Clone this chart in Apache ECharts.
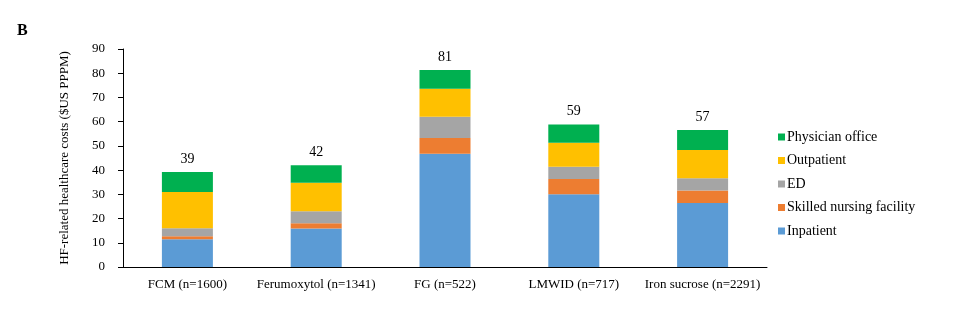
<!DOCTYPE html>
<html>
<head>
<meta charset="utf-8">
<script src="https://cdn.jsdelivr.net/npm/echarts@6/dist/echarts.min.js"></script>
<style>html,body{margin:0;padding:0;background:#fff}#c{width:975px;height:324px}</style>
</head>
<body>
<div id="c"></div>
<script>
var categories = ['FCM (n=1600)', 'Ferumoxytol (n=1341)', 'FG (n=522)', 'LMWID (n=717)', 'Iron sucrose (n=2291)'];
var inpatient = [11.5, 15.9, 46.8, 30.0, 26.4];
var skilledNursing = [1.2, 2.2, 6.5, 6.3, 5.2];
var ed = [3.3, 4.9, 8.7, 5.1, 5.0];
var outpatient = [15.0, 11.8, 11.6, 9.9, 11.7];
var physicianOffice = [8.2, 7.2, 7.7, 7.5, 8.3];
var totals = [39, 42, 81, 59, 57];
var yTicks = [0, 10, 20, 30, 40, 50, 60, 70, 80, 90];

var font = '"Liberation Serif", "Times New Roman", serif';
var chart = echarts.init(document.getElementById('c'), null, {renderer: 'canvas'});
function ser(name, data, color, withTotal) {
  var s = {
    name: name, type: 'bar', stack: 'total', data: data, barWidth: 51,
    itemStyle: {color: color}, emphasis: {disabled: true}
  };
  if (withTotal) {
    s.label = {
      show: true, position: 'top', distance: 6, color: '#000',
      fontFamily: font, fontSize: 14,
      formatter: function (p) { return String(totals[p.dataIndex]); }
    };
  }
  return s;
}
chart.setOption({
  animation: false,
  backgroundColor: '#fff',
  textStyle: {fontFamily: font},
  title: {text: 'B', left: 12, top: 18, textStyle: {fontFamily: font, fontSize: 16, fontWeight: 'bold', color: '#000'}},
  grid: {left: 123, right: 208, top: 49, bottom: 57},
  legend: {
    orient: 'vertical', left: 773, top: 125, itemGap: 9.5,
    itemWidth: 7, itemHeight: 7, icon: 'rect',
    textStyle: {fontFamily: font, fontSize: 14, color: '#000', padding: [0, 0, 0, -3]},
    data: ['Physician office', 'Outpatient', 'ED', 'Skilled nursing facility', 'Inpatient']
  },
  xAxis: {
    type: 'category', data: categories,
    axisLine: {lineStyle: {color: '#000', width: 1}},
    axisTick: {show: false},
    axisLabel: {color: '#000', fontFamily: font, fontSize: 13, margin: 11, interval: 0}
  },
  yAxis: {
    type: 'value', min: yTicks[0], max: yTicks[yTicks.length - 1], interval: 10,
    name: 'HF-related healthcare costs ($US PPPM)', nameLocation: 'middle', nameGap: 52, nameRotate: 90,
    nameTextStyle: {color: '#000', fontFamily: font, fontSize: 13},
    axisLine: {show: true, lineStyle: {color: '#000', width: 1}},
    axisTick: {show: true, length: 5, lineStyle: {color: '#000'}},
    splitLine: {show: false},
    axisLabel: {color: '#000', fontFamily: font, fontSize: 13, margin: 18}
  },
  series: [
    ser('Inpatient', inpatient, '#5B9BD5'),
    ser('Skilled nursing facility', skilledNursing, '#ED7D31'),
    ser('ED', ed, '#A5A5A5'),
    ser('Outpatient', outpatient, '#FFC000'),
    ser('Physician office', physicianOffice, '#00B050', true)
  ]
});
</script>
</body>
</html>
